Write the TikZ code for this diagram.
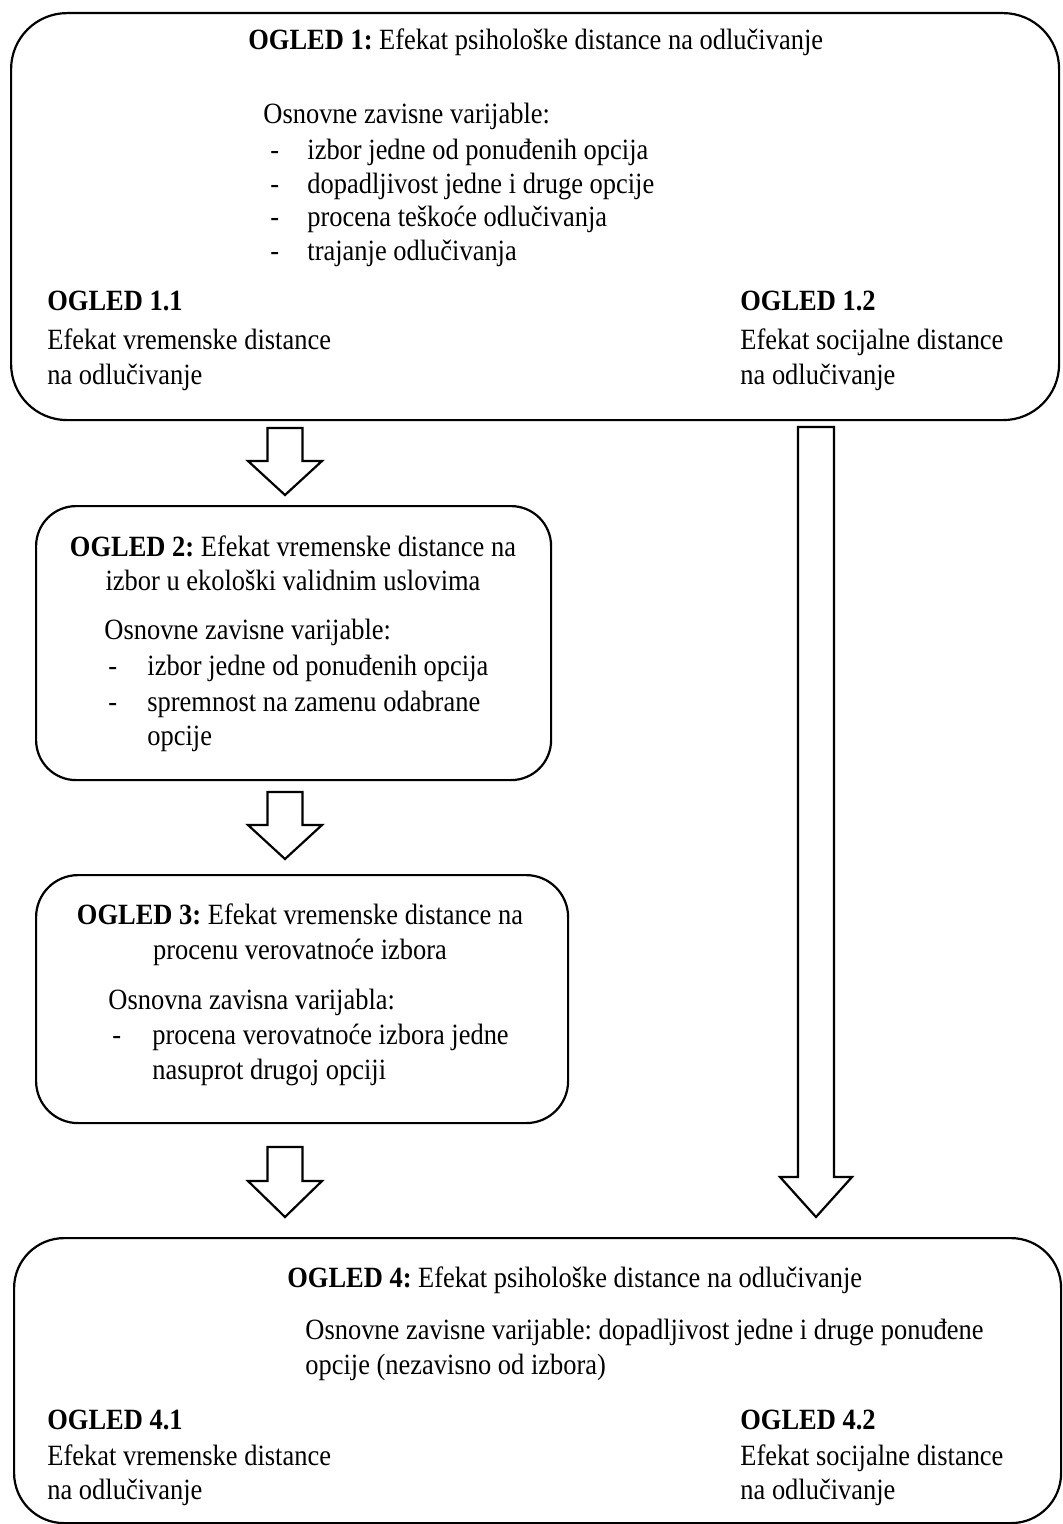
\documentclass[tikz,border=0pt]{standalone}
\usepackage{fontspec}
\setmainfont{Liberation Serif}[FakeStretch=0.9]
\frenchspacing
\tikzset{
  box/.style={draw, line width=1.1pt, inner sep=0pt, anchor=north west},
  txt/.style={anchor=base west, inner sep=0pt, font=\fontsize{14.7}{17}\selectfont},
  ctxt/.style={anchor=base, inner sep=0pt, font=\fontsize{14.7}{17}\selectfont},
  blk/.style={draw, line width=1.1pt, fill=white, line join=miter}
}
\newcommand\blkarrow[7]{% name, cx, top, base, tip, halfstem, halfhead
  \coordinate (#1) at (#2,#5);
  \draw[blk] (#2-#6,#3) -- (#2+#6,#3) -- (#2+#6,#4) -- (#2+#7,#4) -- (#1)
     -- (#2-#7,#4) -- (#2-#6,#4) -- cycle;}
\begin{document}
\begin{tikzpicture}[x=0.5pt,y=-0.5pt]
\useasboundingbox (0,0) rectangle (1062,1524);
% boxes
\node[box, rounded corners=28pt, minimum width=524pt, minimum height=203.5pt] (box1) at (10,12) {};
\node[box, rounded corners=20pt, minimum width=257.5pt, minimum height=137pt] (box2) at (35,505) {};
\node[box, rounded corners=21pt, minimum width=266pt, minimum height=124pt] (box3) at (35,874) {};
\node[box, rounded corners=25pt, minimum width=523.5pt, minimum height=142.5pt] (box4) at (13,1237) {};
% arrows
\blkarrow{a1}{285}{428}{461}{495}{17.5}{37}
\blkarrow{a2}{285}{792}{825}{859}{17.5}{37}
\blkarrow{a3}{285}{1147}{1181}{1217}{17.5}{37}
\blkarrow{a4}{816}{427}{1177}{1217}{18}{36}
% box 1 text
\node[txt] (t1) at (248,50) {\textbf{OGLED 1:} Efekat psihološke distance na odlučivanje};
\node[txt] (t1a) at (263,124) {Osnovne zavisne varijable:};
\node[txt] (d1a) at (270,160) {-};
\node[txt] (i1a) at (307,160) {izbor jedne od ponuđenih opcija};
\node[txt] (d1b) at (270,194) {-};
\node[txt] (i1b) at (307,194) {dopadljivost jedne i druge opcije};
\node[txt] (d1c) at (270,227) {-};
\node[txt] (i1c) at (307,227) {procena teškoće odlučivanja};
\node[txt] (d1d) at (270,261) {-};
\node[txt] (i1d) at (307,261) {trajanje odlučivanja};
\node[txt] (o11) at (47,311) {\textbf{OGLED 1.1}};
\node[txt] (o11a) at (47,350) {Efekat vremenske distance};
\node[txt] (o11b) at (47,384) {na odlučivanje};
\node[txt] (o12) at (740,311) {\textbf{OGLED 1.2}};
\node[txt] (o12a) at (740,350) {Efekat socijalne distance};
\node[txt] (o12b) at (740,384) {na odlučivanje};
% box 2 text
\node[ctxt] (t2) at (293,556) {\textbf{OGLED 2:} Efekat vremenske distance na};
\node[ctxt] (t2b) at (293,590) {izbor u ekološki validnim uslovima};
\node[txt] (t2c) at (104,639) {Osnovne zavisne varijable:};
\node[txt] (d2a) at (108,675) {-};
\node[txt] (i2a) at (147,675) {izbor jedne od ponuđenih opcija};
\node[txt] (d2b) at (108,711) {-};
\node[txt] (i2b) at (147,711) {spremnost na zamenu odabrane};
\node[txt] (i2c) at (147,745) {opcije};
% box 3 text
\node[ctxt] (t3) at (300,924) {\textbf{OGLED 3:} Efekat vremenske distance na};
\node[ctxt] (t3b) at (300,959) {procenu verovatnoće izbora};
\node[txt] (t3c) at (108,1009) {Osnovna zavisna varijabla:};
\node[txt] (d3a) at (112,1044) {-};
\node[txt] (i3a) at (152,1044) {procena verovatnoće izbora jedne};
\node[txt] (i3b) at (152,1079) {nasuprot drugoj opciji};
% box 4 text
\node[txt] (t4) at (287,1287) {\textbf{OGLED 4:} Efekat psihološke distance na odlučivanje};
\node[txt] (t4a) at (305,1339) {Osnovne zavisne varijable: dopadljivost jedne i druge ponuđene};
\node[txt] (t4b) at (305,1374) {opcije (nezavisno od izbora)};
\node[txt] (o41) at (47,1429) {\textbf{OGLED 4.1}};
\node[txt] (o41a) at (47,1465) {Efekat vremenske distance};
\node[txt] (o41b) at (47,1499) {na odlučivanje};
\node[txt] (o42) at (740,1429) {\textbf{OGLED 4.2}};
\node[txt] (o42a) at (740,1465) {Efekat socijalne distance};
\node[txt] (o42b) at (740,1499) {na odlučivanje};
\end{tikzpicture}
\end{document}
